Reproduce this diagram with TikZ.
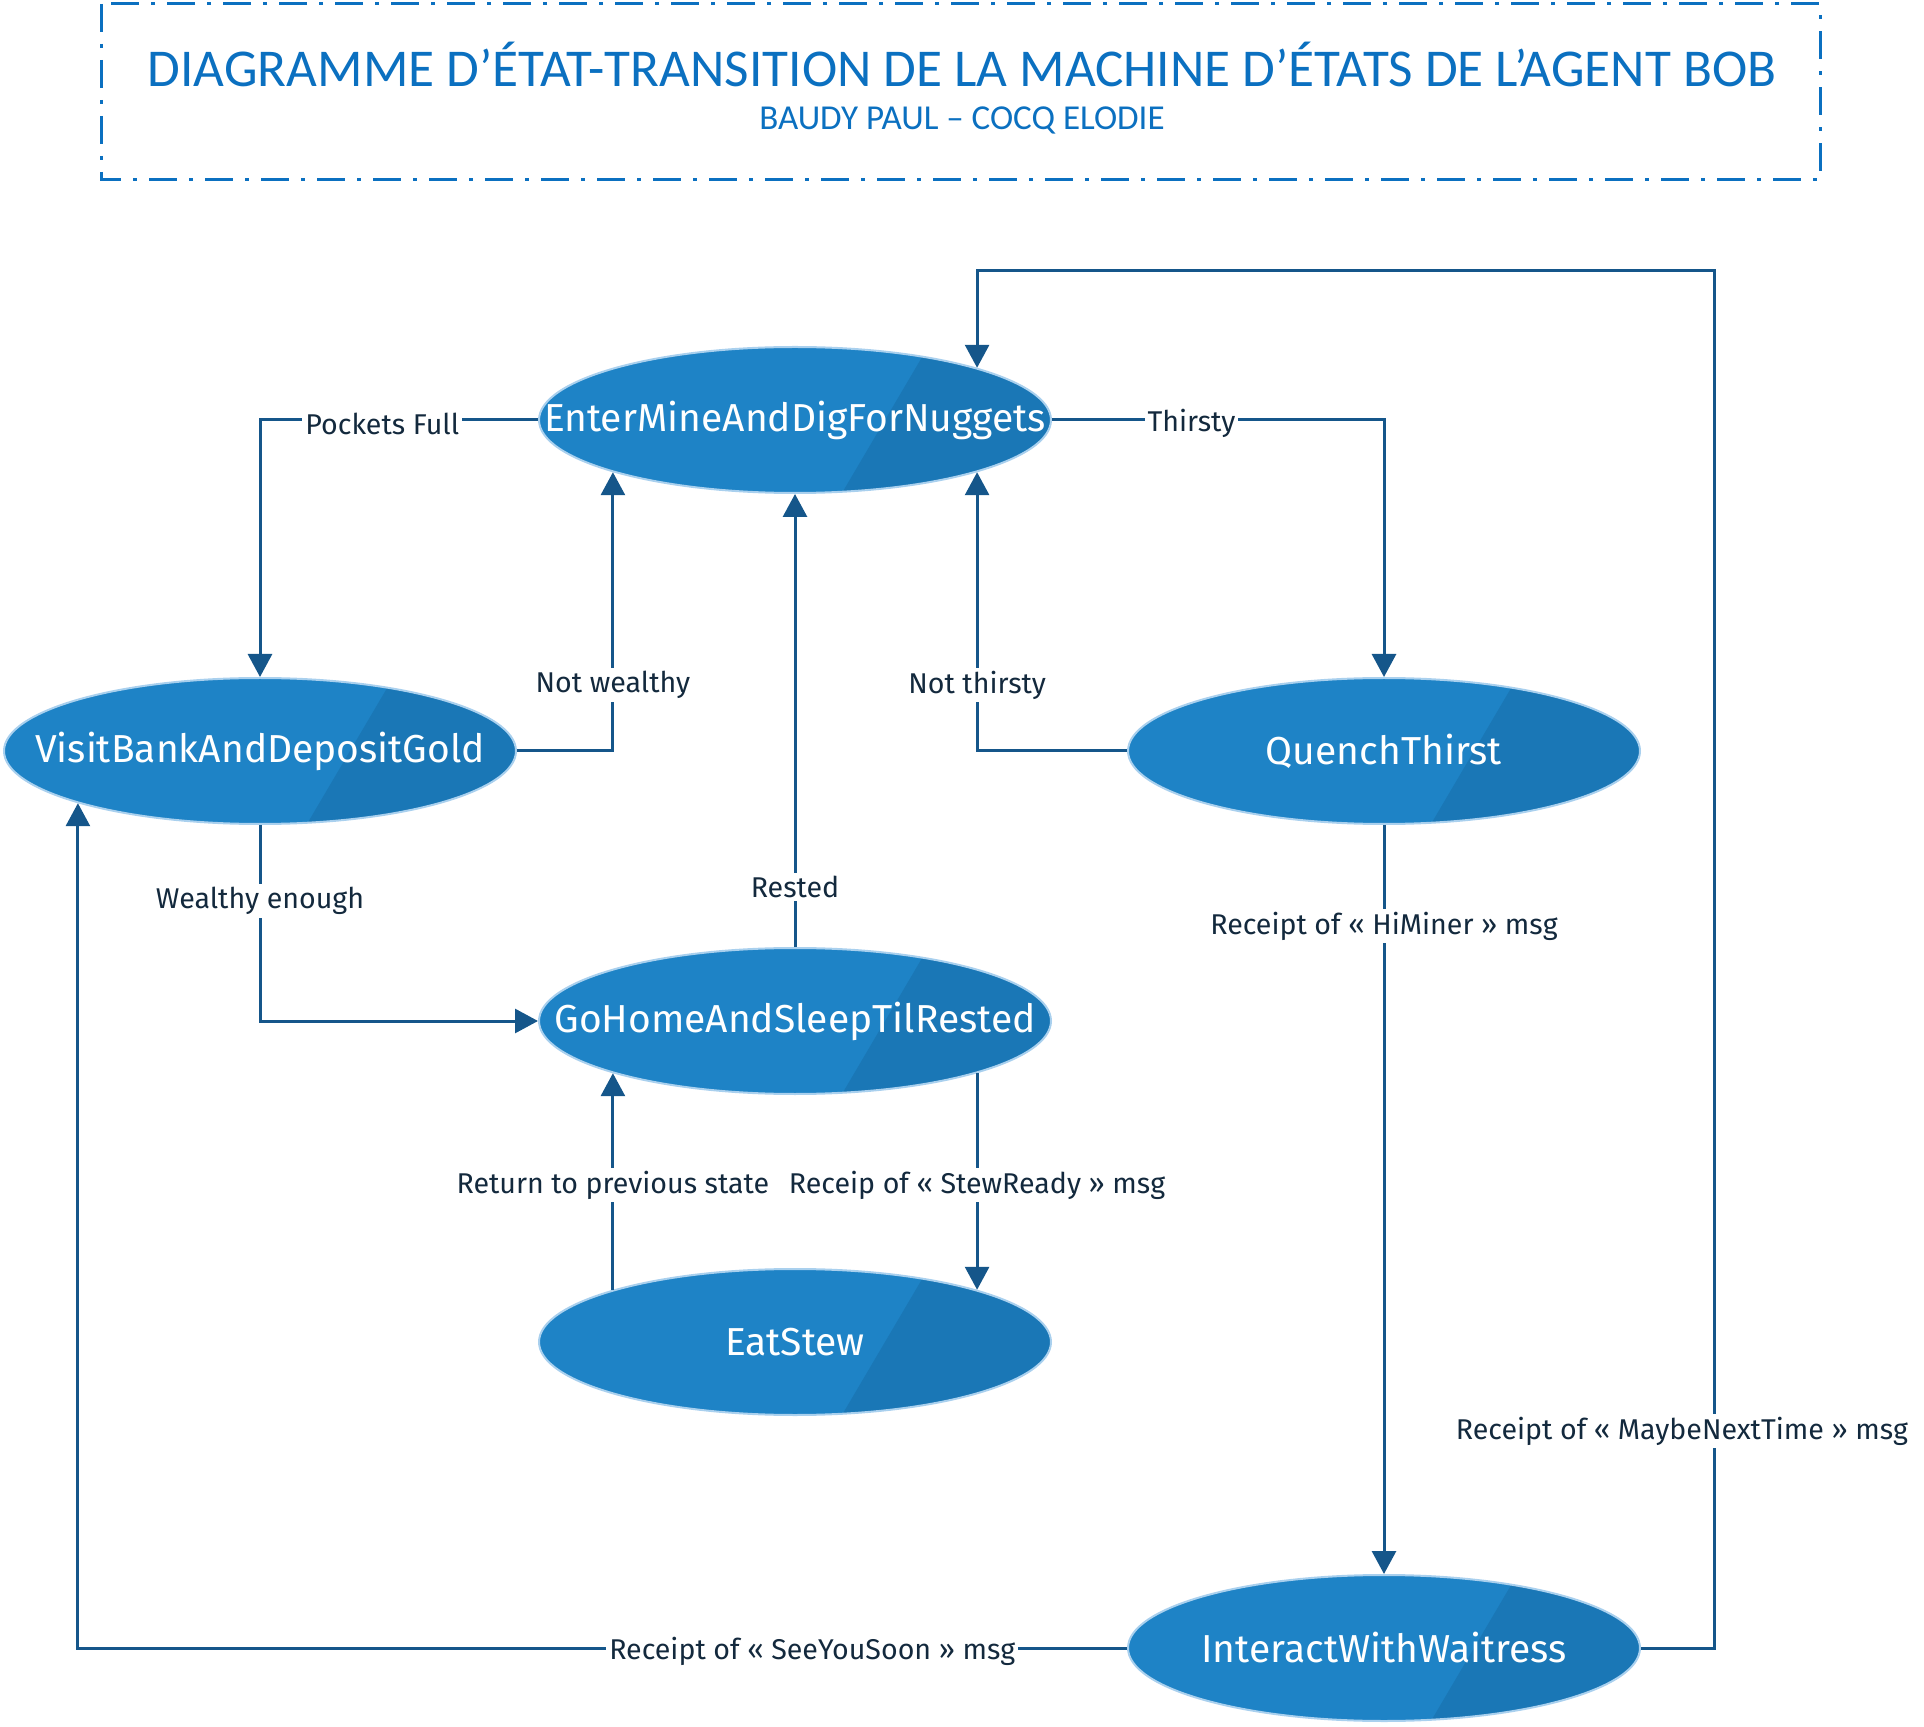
\documentclass[tikz,border=0pt]{standalone}
\usepackage{fontspec}
\setmainfont{Fira Sans}
\newfontfamily\titlefont{Carlito}
\usetikzlibrary{arrows.meta, positioning, shapes.geometric, calc}

\definecolor{statefill}{HTML}{1E83C6}
\definecolor{stateshade}{HTML}{1A77B6}
\definecolor{stateedge}{HTML}{A9D0EE}
\definecolor{linkblue}{HTML}{15568A}
\definecolor{labelink}{HTML}{13293D}
\definecolor{titleblue}{HTML}{0B70C0}

\begin{document}
\begin{tikzpicture}[
    x=0.5pt, y=-0.5pt,
    statebox/.style={ellipse, draw=stateedge, line width=1pt, fill=statefill, minimum width=256pt, minimum height=73pt, inner xsep=-80pt, inner ysep=0pt, text=white, font=\fontsize{19.5}{22}\selectfont,
        path picture={\fill[stateshade] ([xshift=66.5pt]path picture bounding box.north) -- (path picture bounding box.north east) -- (path picture bounding box.south east) -- ([xshift=23.5pt]path picture bounding box.south) -- cycle;}},
    arrow/.style={-{Triangle[width=12pt, length=11.5pt]}, line width=1.5pt, draw=linkblue},
    lbl/.style={fill=white, text=labelink, inner sep=1.5pt, yshift=-1.8pt, font=\fontsize{14.3}{16}\selectfont},
    titlebox/.style={draw=titleblue, line width=1.5pt, dash pattern=on 14pt off 6pt on 2pt off 6pt}
]
\useasboundingbox (0,0) rectangle (1924,1727);

% Header
\draw[titlebox] (101,4) rectangle (1820,180);
\node[text=titleblue, font=\titlefont\fontsize{26.6}{30}\selectfont] (title) at (962,64) {DIAGRAMME D’ÉTAT-TRANSITION DE LA MACHINE D’ÉTATS DE L’AGENT BOB};
\node[text=titleblue, font=\titlefont\fontsize{17.5}{20}\selectfont] (authors) at (962,120) {BAUDY PAUL – COCQ ELODIE};

% States
\node[statebox] (mine) at (795,420) {EnterMineAndDigForNuggets};
\node[statebox] (bank) at (260,751) {VisitBankAndDepositGold};
\node[statebox] (thirst) at (1384,751) {QuenchThirst};
\node[statebox] (home) at (795,1021) {GoHomeAndSleepTilRested};
\node[statebox] (stew) at (795,1342) {EatStew};
\node[statebox] (waitress) at (1384,1648) {InteractWithWaitress};
\coordinate (loop) at (1714,271);

% Transitions
\draw[arrow] (mine.west) -| node[lbl, pos=0.28] {Pockets Full} (bank.north);
\draw[arrow] (bank.east) -| node[lbl, pos=0.625] {Not wealthy} (mine.196);
\draw[arrow] (mine.east) -| node[lbl, pos=0.21] {Thirsty} (thirst.north);
\draw[arrow] (thirst.west) -| node[lbl, pos=0.625] {Not thirsty} (mine.-16);
\draw[arrow] (home.north) -- node[lbl, pos=0.14] {Rested} (mine.south);
\draw[arrow] (bank.south) |- node[lbl, pos=0.185] {Wealthy enough} (home.west);
\draw[arrow] (stew.164) -- node[lbl] {Return to previous state} (home.196);
\draw[arrow] (home.-16) -- node[lbl] {Receip of « StewReady » msg} (stew.16);
\draw[arrow] (thirst.south) -- node[lbl, pos=0.13] {Receipt of « HiMiner » msg} (waitress.north);
\draw[arrow] (waitress.east) -| node[lbl, pos=0.58, xshift=-16pt] {Receipt of « MaybeNextTime » msg} (loop) -| (mine.16);
\draw[arrow] (waitress.west) -| node[lbl, pos=0.15] {Receipt of « SeeYouSoon » msg} (bank.196);

\end{tikzpicture}
\end{document}
